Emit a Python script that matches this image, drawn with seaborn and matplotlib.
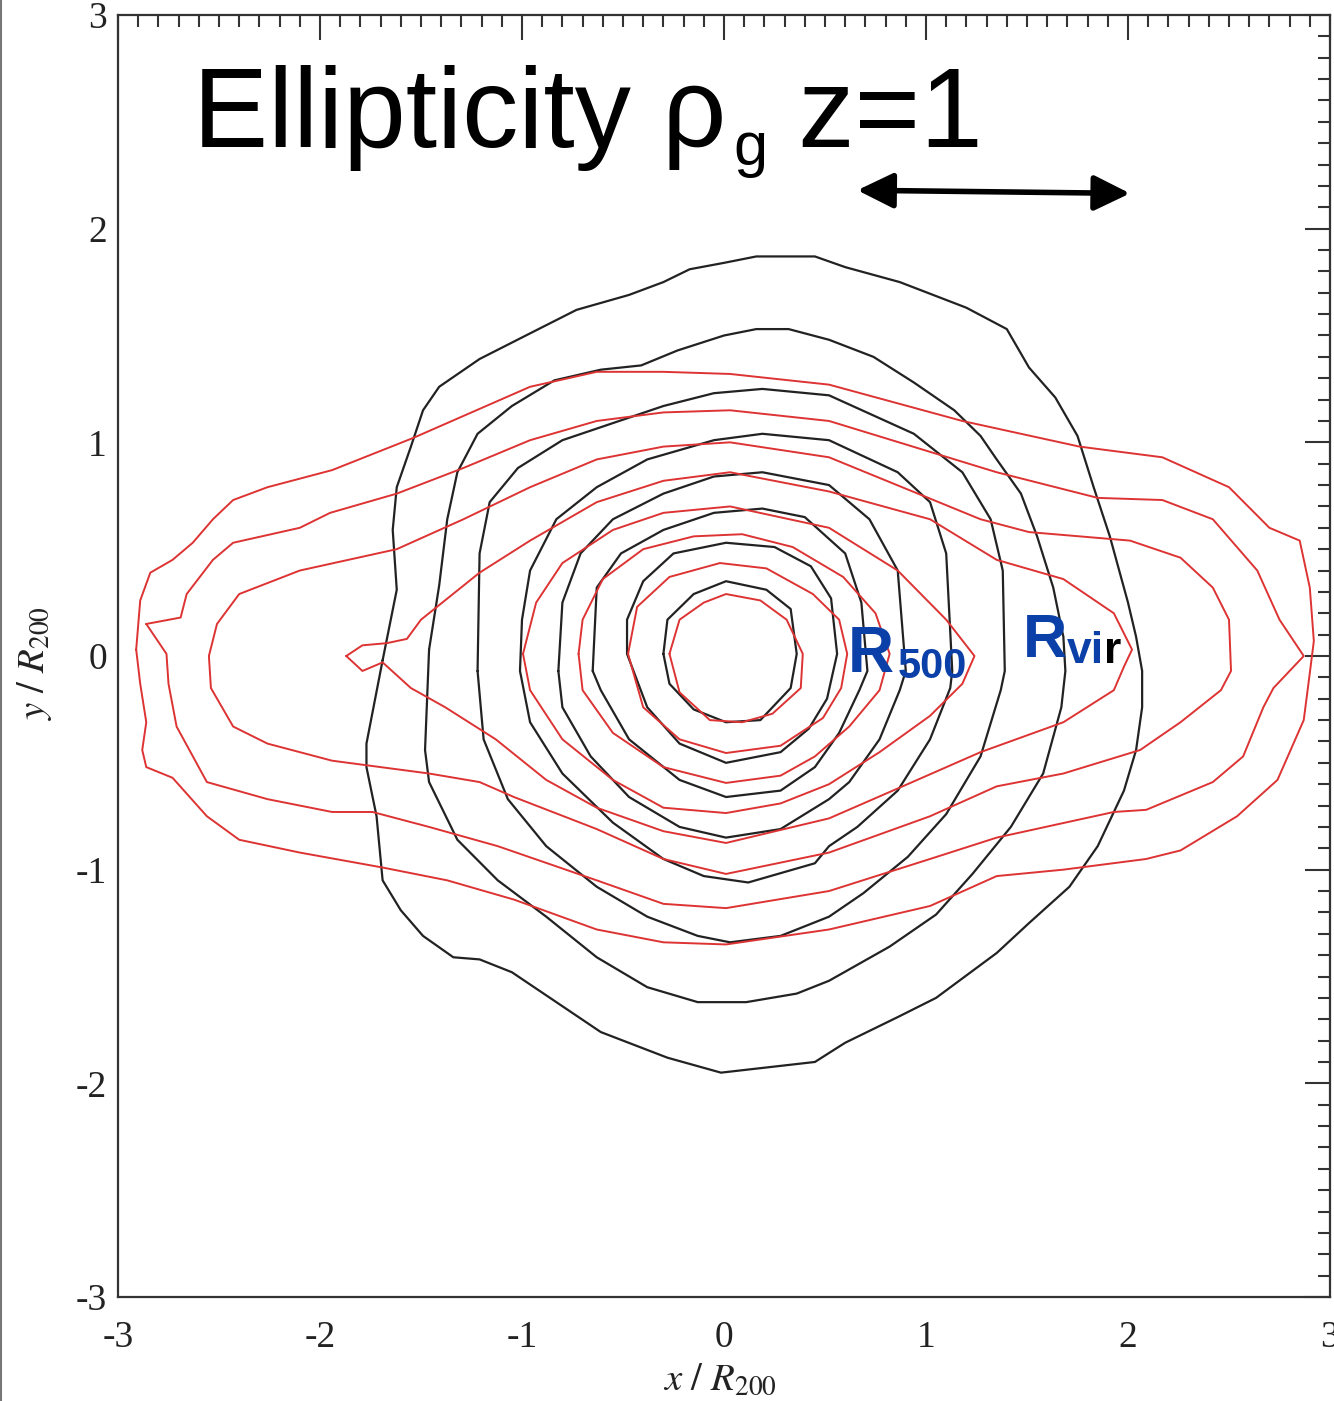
import numpy as np
import pandas as pd
import matplotlib
matplotlib.use("Agg")
import matplotlib.pyplot as plt
import seaborn as sns
from matplotlib import font_manager
from matplotlib.ticker import MultipleLocator, FixedLocator, FixedFormatter
from matplotlib.lines import Line2D

# ---------------- data (x / R200, y / R200) ----------------
black_1 = [(-0.30, 0.01), (-0.28, 0.17), (-0.15, 0.29), (0.01, 0.35), (0.21, 0.31), (0.33, 0.22),
           (0.36, 0.01), (0.33, -0.15), (0.18, -0.30), (0.01, -0.31), (-0.15, -0.25), (-0.27, -0.13)]
black_2 = [(-0.48, 0.01), (-0.48, 0.17), (-0.40, 0.35), (-0.25, 0.48), (0.01, 0.53), (0.25, 0.51),
           (0.43, 0.42), (0.53, 0.27), (0.56, 0.01), (0.51, -0.20), (0.42, -0.34), (0.28, -0.45),
           (0.01, -0.50), (-0.22, -0.41), (-0.38, -0.24)]
black_3 = [(-0.65, -0.07), (-0.63, 0.32), (-0.51, 0.48), (-0.30, 0.59), (-0.05, 0.67), (0.19, 0.69),
           (0.40, 0.65), (0.60, 0.48), (0.68, 0.25), (0.71, -0.07), (0.67, -0.16), (0.57, -0.36),
           (0.45, -0.52), (0.28, -0.63), (0.01, -0.66), (-0.22, -0.58), (-0.47, -0.39), (-0.61, -0.16)]
black_4 = [(-0.82, -0.07), (-0.80, 0.25), (-0.71, 0.48), (-0.55, 0.64), (-0.30, 0.76), (-0.05, 0.84),
           (0.19, 0.86), (0.52, 0.80), (0.72, 0.64), (0.86, 0.40), (0.90, -0.07), (0.87, -0.16),
           (0.77, -0.39), (0.62, -0.59), (0.52, -0.67), (0.28, -0.81), (0.01, -0.85), (-0.22, -0.80),
           (-0.47, -0.66), (-0.66, -0.47), (-0.80, -0.24)]
black_5 = [(-1.01, -0.07), (-1.00, 0.17), (-0.96, 0.40), (-0.83, 0.64), (-0.63, 0.79), (-0.38, 0.92),
           (-0.05, 1.01), (0.19, 1.04), (0.52, 1.01), (0.86, 0.86), (1.02, 0.72), (1.10, 0.48),
           (1.13, -0.07), (1.12, -0.15), (1.02, -0.39), (0.86, -0.63), (0.66, -0.80), (0.52, -0.89),
           (0.45, -0.97), (0.12, -1.06), (-0.10, -1.03), (-0.30, -0.95), (-0.55, -0.78), (-0.80, -0.55),
           (-0.96, -0.31)]
black_6 = [(-1.22, -0.07), (-1.21, 0.48), (-1.16, 0.72), (-1.02, 0.88), (-0.80, 1.01), (-0.55, 1.09),
           (-0.30, 1.17), (-0.05, 1.23), (0.19, 1.25), (0.52, 1.22), (0.94, 1.04), (1.18, 0.86),
           (1.32, 0.64), (1.38, 0.40), (1.39, -0.07), (1.37, -0.16), (1.27, -0.47), (1.10, -0.74),
           (0.91, -0.94), (0.69, -1.11), (0.52, -1.22), (0.28, -1.31), (0.03, -1.34), (-0.13, -1.31),
           (-0.38, -1.22), (-0.63, -1.08), (-0.88, -0.89), (-1.07, -0.67), (-1.19, -0.39)]
black_7 = [(-1.46, 0.03), (-1.41, 0.33), (-1.37, 0.64), (-1.32, 0.86), (-1.22, 1.04), (-1.05, 1.17),
           (-0.84, 1.29), (-0.61, 1.34), (-0.41, 1.36), (-0.23, 1.43), (0.00, 1.50), (0.16, 1.53),
           (0.32, 1.53), (0.52, 1.48), (0.74, 1.40), (0.94, 1.28), (1.14, 1.15), (1.27, 1.03),
           (1.35, 0.92), (1.47, 0.76), (1.55, 0.56), (1.63, 0.32), (1.68, 0.09), (1.69, -0.07),
           (1.67, -0.24), (1.58, -0.55), (1.42, -0.80), (1.23, -1.02), (1.05, -1.21), (0.82, -1.36),
           (0.52, -1.52), (0.36, -1.58), (0.11, -1.62), (-0.13, -1.62), (-0.38, -1.55), (-0.63, -1.41),
           (-0.88, -1.22), (-1.12, -1.05), (-1.32, -0.86), (-1.46, -0.59), (-1.48, -0.44)]
black_8 = [(-1.69, -0.02), (-1.62, 0.31), (-1.64, 0.59), (-1.62, 0.79), (-1.55, 0.98), (-1.49, 1.15),
           (-1.41, 1.26), (-1.21, 1.39), (-0.96, 1.51), (-0.73, 1.62), (-0.47, 1.69), (-0.30, 1.75),
           (-0.17, 1.81), (0.00, 1.84), (0.16, 1.87), (0.45, 1.87), (0.60, 1.82), (0.87, 1.75),
           (1.20, 1.63), (1.40, 1.53), (1.51, 1.35), (1.64, 1.21), (1.75, 1.03), (1.83, 0.79),
           (1.91, 0.56), (2.00, 0.25), (2.04, 0.09), (2.07, -0.07), (2.07, -0.24), (2.04, -0.44),
           (1.98, -0.63), (1.85, -0.89), (1.71, -1.08), (1.51, -1.25), (1.35, -1.39), (1.05, -1.60),
           (0.86, -1.69), (0.60, -1.81), (0.45, -1.90), (-0.015, -1.95), (-0.28, -1.88), (-0.61, -1.76),
           (-1.05, -1.48), (-1.21, -1.42), (-1.34, -1.41), (-1.49, -1.31), (-1.60, -1.19), (-1.69, -1.05),
           (-1.72, -0.75), (-1.77, -0.52), (-1.77, -0.41)]

red_1 = [(-0.27, 0.01), (-0.22, 0.17), (-0.10, 0.25), (0.01, 0.29), (0.18, 0.26), (0.31, 0.17),
         (0.39, 0.01), (0.38, -0.15), (0.24, -0.27), (0.09, -0.31), (-0.07, -0.30), (-0.22, -0.17)]
red_2 = [(-0.475, 0.01), (-0.43, 0.23), (-0.27, 0.37), (-0.02, 0.435), (0.21, 0.41), (0.44, 0.29),
         (0.57, 0.17), (0.61, 0.01), (0.58, -0.15), (0.49, -0.29), (0.28, -0.42), (0.01, -0.454),
         (-0.22, -0.39), (-0.40, -0.24)]
red_3 = [(-0.72, 0.01), (-0.70, 0.17), (-0.60, 0.36), (-0.40, 0.50), (-0.15, 0.56), (0.09, 0.57),
         (0.34, 0.51), (0.59, 0.37), (0.75, 0.20), (0.82, 0.01), (0.77, -0.16), (0.62, -0.33),
         (0.45, -0.47), (0.28, -0.56), (0.01, -0.594), (-0.30, -0.52), (-0.55, -0.36), (-0.70, -0.16)]
red_4 = [(-0.995, 0.01), (-0.93, 0.25), (-0.80, 0.435), (-0.55, 0.59), (-0.30, 0.67), (0.03, 0.70),
         (0.52, 0.60), (0.86, 0.40), (1.10, 0.17), (1.24, 0.00), (1.18, -0.13), (1.02, -0.28),
         (0.77, -0.45), (0.52, -0.60), (0.28, -0.69), (0.01, -0.735), (-0.30, -0.71), (-0.55, -0.58),
         (-0.80, -0.39), (-0.96, -0.16)]
red_5 = [(-1.87, 0.00), (-1.79, 0.05), (-1.67, 0.06), (-1.57, 0.08), (-1.50, 0.17), (-1.21, 0.39),
         (-0.96, 0.54), (-0.63, 0.72), (-0.30, 0.82), (0.03, 0.86), (0.52, 0.77), (1.02, 0.64),
         (1.35, 0.45), (1.68, 0.36), (1.93, 0.20), (2.02, 0.03), (1.98, -0.05), (1.93, -0.16),
         (1.68, -0.31), (1.27, -0.45), (0.86, -0.62), (0.52, -0.76), (0.01, -0.875), (-0.30, -0.82),
         (-0.63, -0.71), (-0.88, -0.58), (-1.13, -0.39), (-1.38, -0.24), (-1.55, -0.15), (-1.69, -0.03),
         (-1.79, -0.07)]
red_6 = [(-2.55, 0.00), (-2.51, 0.15), (-2.40, 0.29), (-2.10, 0.40), (-1.62, 0.50), (-1.29, 0.64),
         (-0.96, 0.79), (-0.63, 0.92), (-0.30, 0.98), (0.03, 1.00), (0.52, 0.93), (1.27, 0.64),
         (1.51, 0.58), (2.01, 0.54), (2.26, 0.46), (2.42, 0.32), (2.50, 0.17), (2.51, -0.07),
         (2.46, -0.16), (2.26, -0.31), (2.06, -0.44), (1.68, -0.55), (1.35, -0.61), (1.02, -0.75),
         (0.52, -0.92), (0.01, -1.02), (-0.30, -0.95), (-0.63, -0.81), (-1.04, -0.66), (-1.21, -0.59),
         (-1.46, -0.55), (-1.94, -0.49), (-2.26, -0.41), (-2.43, -0.33), (-2.54, -0.15)]
red_7 = [(-2.86, 0.15), (-2.69, 0.18), (-2.66, 0.29), (-2.53, 0.45), (-2.43, 0.53), (-2.10, 0.60),
         (-1.95, 0.67), (-1.62, 0.76), (-1.29, 0.88), (-0.96, 1.01), (-0.63, 1.10), (-0.30, 1.14),
         (0.03, 1.15), (0.52, 1.10), (1.35, 0.86), (1.85, 0.74), (2.17, 0.73), (2.42, 0.64),
         (2.64, 0.40), (2.75, 0.17), (2.87, 0.00), (2.72, -0.15), (2.67, -0.24), (2.57, -0.47),
         (2.42, -0.59), (2.09, -0.72), (1.93, -0.73), (1.35, -0.85), (1.02, -0.95), (0.52, -1.10),
         (0.01, -1.18), (-0.30, -1.16), (-0.63, -1.05), (-1.12, -0.89), (-1.46, -0.80), (-1.74, -0.73),
         (-1.94, -0.73), (-2.26, -0.67), (-2.56, -0.59), (-2.71, -0.33), (-2.75, -0.13), (-2.76, 0.01)]
red_8 = [(-2.91, 0.03), (-2.89, 0.26), (-2.84, 0.39), (-2.73, 0.45), (-2.63, 0.53), (-2.53, 0.64),
         (-2.43, 0.73), (-2.26, 0.79), (-1.94, 0.87), (-1.54, 1.02), (-0.96, 1.26), (-0.63, 1.33),
         (-0.30, 1.33), (0.03, 1.32), (0.52, 1.27), (1.18, 1.10), (1.76, 0.98), (2.17, 0.93),
         (2.50, 0.79), (2.70, 0.60), (2.85, 0.54), (2.90, 0.32), (2.92, 0.07), (2.90, -0.08),
         (2.87, -0.30), (2.74, -0.58), (2.54, -0.75), (2.26, -0.91), (2.09, -0.95), (1.68, -1.00),
         (1.35, -1.03), (1.02, -1.17), (0.52, -1.28), (0.01, -1.35), (-0.30, -1.34), (-0.63, -1.28),
         (-1.04, -1.14), (-1.37, -1.05), (-1.69, -0.99), (-2.10, -0.92), (-2.40, -0.86), (-2.56, -0.75),
         (-2.73, -0.57), (-2.86, -0.52), (-2.88, -0.44), (-2.86, -0.31), (-2.89, -0.13)]

black_contours = [black_1, black_2, black_3, black_4, black_5, black_6, black_7, black_8]
red_contours = [red_1, red_2, red_3, red_4, red_5, red_6, red_7, red_8]

tick_values = [-3, -2, -1, 0, 1, 2, 3]
tick_labels = ["-3", "-2", "-1", "0", "1", "2", "3"]

title_main = "Ellipticity ρ"
title_sub = "g"
title_tail = " z=1"
arrow_start = (0.66, 2.18)
arrow_end = (2.01, 2.165)

# ---------------- style ----------------
sns.set_theme(style="white")
plt.rcParams["axes.unicode_minus"] = False
plt.rcParams["font.family"] = ["Liberation Serif", "DejaVu Serif"]


def pick(fams):
    for f in fams:
        try:
            font_manager.findfont(f, fallback_to_default=False)
            return f
        except Exception:
            pass
    return "DejaVu Sans"


sans = pick(["Liberation Sans", "Arial", "DejaVu Sans"])

W, H = 1334, 1401
fig = plt.figure(figsize=(W / 100, H / 100), dpi=100)
fig.patch.set_facecolor("white")
ax = fig.add_axes([118 / W, (H - 1297) / H, 1212 / W, 1282 / H])
ax.set_facecolor("white")


def to_df(contours, prefix):
    rows = []
    for k, pts in enumerate(contours):
        closed = list(pts) + [pts[0]]
        for i, (x, y) in enumerate(closed):
            rows.append({"x": x, "y": y, "contour": f"{prefix}{k}", "order": i})
    return pd.DataFrame(rows)


df_black = to_df(black_contours, "b")
df_red = to_df(red_contours, "r")

sns.lineplot(data=df_black, x="x", y="y", units="contour", estimator=None, sort=False,
             color="#222222", lw=1.6, ax=ax, legend=False)
sns.lineplot(data=df_red, x="x", y="y", units="contour", estimator=None, sort=False,
             color="#dd3333", lw=1.4, ax=ax, legend=False)

ax.set_xlim(-3, 3)
ax.set_ylim(-3, 3)

for a in (ax.xaxis, ax.yaxis):
    a.set_major_locator(FixedLocator(tick_values))
    a.set_major_formatter(FixedFormatter(tick_labels))
    a.set_minor_locator(MultipleLocator(0.1))

ax.tick_params(which="both", direction="in", top=True, right=True, color="#333333", width=1.5)
ax.tick_params(which="major", length=18)
ax.tick_params(which="minor", length=8.5)
ax.tick_params(axis="x", which="major", pad=17, labelsize=27, labelcolor="#222222")
ax.tick_params(axis="y", which="major", pad=8, labelsize=27, labelcolor="#222222")
for lab in ax.get_xticklabels() + ax.get_yticklabels():
    lab.set_fontfamily(["Liberation Serif", "DejaVu Serif"])

for s in ax.spines.values():
    s.set_color("#333333")
    s.set_linewidth(1.6)

ax.set_xlabel(r"$x\ /\ R_{\mathit{200}}$", fontsize=28, color="#222222", math_fontfamily="stix")
ax.set_ylabel(r"$y\ /\ R_{\mathit{200}}$", fontsize=28, color="#222222", math_fontfamily="stix")
ax.xaxis.set_label_coords((720 - 118) / 1212, -(1362 - 1297) / 1282)
ax.yaxis.set_label_coords((54 - 118) / 1212, (1297 - 663) / 1282)

# title: main text, small subscript g, tail
ty = (1297 - 147) / 1282
t1 = ax.text((193 - 118) / 1212, ty, title_main, transform=ax.transAxes,
             fontsize=81, family=sans, color="black", ha="left", va="baseline")
t2 = ax.annotate(title_sub, xy=(1, ty), xycoords=(t1, ax.transAxes),
                 xytext=(5, -13), textcoords="offset points",
                 fontsize=44, family=sans, color="black", ha="left", va="baseline")
t3 = ax.annotate(title_tail, xy=(1, ty), xycoords=(t2, ax.transAxes),
                 xytext=(0, 0), textcoords="offset points",
                 fontsize=81, family=sans, color="black", ha="left", va="baseline")

# arrow
ax.annotate("", xy=arrow_end, xytext=arrow_start,
            arrowprops=dict(arrowstyle="<|-|>,head_length=0.55,head_width=0.27",
                            mutation_scale=40, lw=4.0, color="black", shrinkA=0, shrinkB=0))

BLUE = "#0b40a8"
ax.text(0.614, -0.075, "R", fontsize=46, fontweight="bold", family=sans, color=BLUE,
        ha="left", va="baseline")
ax.text(0.862, -0.103, "500", fontsize=30, fontweight="bold", family=sans, color=BLUE,
        ha="left", va="baseline")
ax.text(1.48, -0.005, "R", fontsize=44, fontweight="bold", family=sans, color=BLUE,
        ha="left", va="baseline")
vi = ax.text(1.695, -0.033, "vi", fontsize=32, fontweight="bold", family=sans, color=BLUE,
             ha="left", va="baseline")
ax.annotate("r", xy=(1, 0), xycoords=vi, fontsize=32, fontweight="bold", family=sans,
            color="black", ha="left", va="bottom")

# left border line of the original picture
fig.add_artist(Line2D([1.5 / W, 1.5 / W], [0, 1], transform=fig.transFigure,
                      color="#777777", lw=1.5))

fig.savefig("out.png", dpi=100, facecolor="white")
